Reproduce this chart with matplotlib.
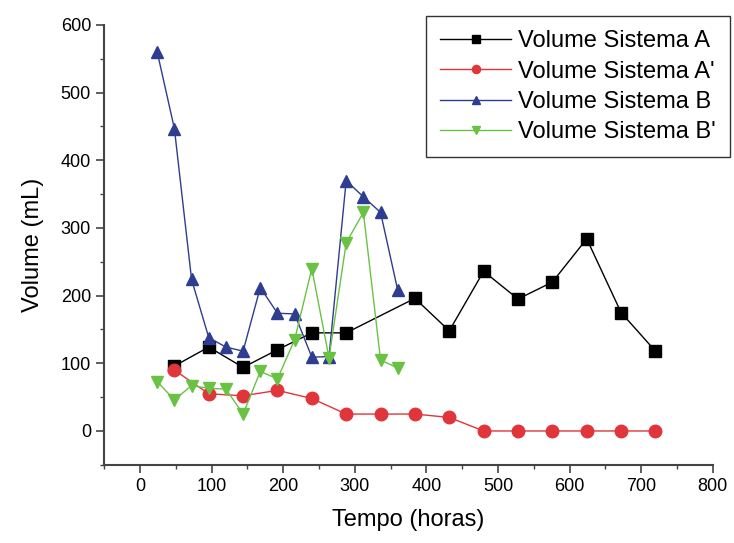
import matplotlib
matplotlib.use("Agg")
import matplotlib.pyplot as plt
from matplotlib.ticker import MultipleLocator

plt.rcParams["font.family"] = ["Liberation Sans", "DejaVu Sans"]

# Series A (black squares)
time_a = [48, 96, 144, 192, 240, 288, 384, 432, 480, 528, 576, 624, 672, 720]
vol_a = [96, 124, 94, 120, 145, 145, 196, 148, 236, 195, 220, 284, 175, 118]

# Series A' (red circles)
time_a2 = [48, 96, 144, 192, 240, 288, 336, 384, 432, 480, 528, 576, 624, 672, 720]
vol_a2 = [90, 55, 52, 60, 48, 25, 25, 25, 20, 0, 0, 0, 0, 0, 0]

# Series B (blue triangles)
time_b = [24, 48, 72, 96, 120, 144, 168, 192, 216, 240, 264, 288, 312, 336, 360]
vol_b = [560, 447, 224, 138, 124, 118, 212, 174, 173, 109, 110, 370, 346, 323, 208]

# Series B' (green down triangles)
time_b2 = [24, 48, 72, 96, 120, 144, 168, 192, 216, 240, 264, 288, 312, 336, 360]
vol_b2 = [73, 46, 67, 63, 62, 25, 88, 77, 135, 240, 108, 278, 323, 105, 93]

labels = ["Volume Sistema A", "Volume Sistema A'", "Volume Sistema B", "Volume Sistema B'"]

fig = plt.figure(figsize=(7.34, 5.43), dpi=100)
ax = fig.add_axes([0.142, 0.144, 0.829, 0.81])

ax.plot(time_a, vol_a, color="black", marker="s", markersize=8, lw=1, label=labels[0])
ax.plot(time_a2, vol_a2, color="#e0353a", marker="o", markersize=9, lw=1, label=labels[1])
ax.plot(time_b, vol_b, color="#2e3d8f", marker="^", markersize=9, lw=1, label=labels[2])
ax.plot(time_b2, vol_b2, color="#6ac245", marker="v", markersize=9, lw=1, label=labels[3])

ax.set_xlim(-50, 800)
ax.set_ylim(-50, 600)
ax.xaxis.set_major_locator(MultipleLocator(100))
ax.xaxis.set_minor_locator(MultipleLocator(50))
ax.yaxis.set_major_locator(MultipleLocator(100))
ax.yaxis.set_minor_locator(MultipleLocator(50))

for side in ["top", "right"]:
    ax.spines[side].set_visible(False)
for side in ["left", "bottom"]:
    ax.spines[side].set_linewidth(1.5)
    ax.spines[side].set_color("#444444")

ax.tick_params(which="major", length=6, width=1.2, labelsize=13, color="#444444")
ax.tick_params(which="minor", length=3, width=1, color="#444444")

ax.set_xlabel("Tempo (horas)", fontsize=17, labelpad=10)
ax.set_ylabel("Volume (mL)", fontsize=17, labelpad=12)

ax.legend(loc="upper right", bbox_to_anchor=(0.995, 0.97), bbox_transform=fig.transFigure,
          fontsize=17, frameon=True, fancybox=False, edgecolor="black", borderaxespad=0,
          handlelength=3.0, labelspacing=0.35, borderpad=0.6, handletextpad=0.3,
          markerscale=0.65)

fig.savefig("out.png", dpi=100)
